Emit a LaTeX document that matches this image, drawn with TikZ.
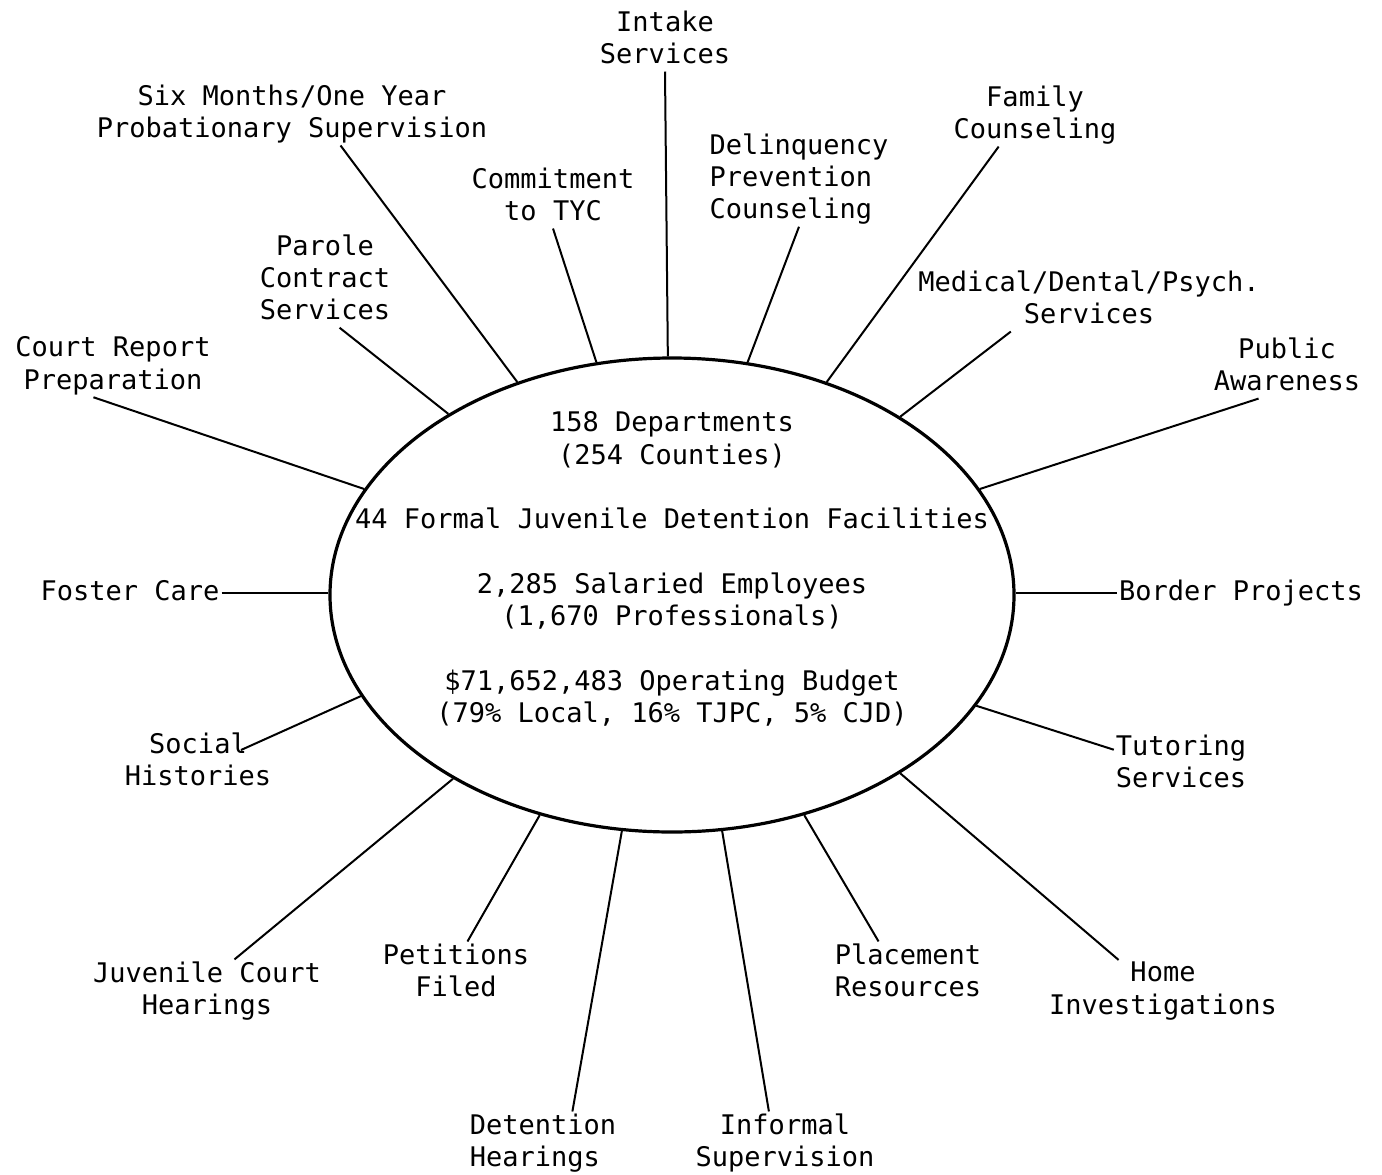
\documentclass[tikz,border=0pt]{standalone}
\usepackage{fontspec}
\usepackage{tikz}
\usetikzlibrary{shapes.geometric}
\newfontfamily\typefont{DejaVu Sans Mono}

\begin{document}
\begin{tikzpicture}[x=1pt,y=-1pt,
    lbl/.style={font=\typefont\fontsize{27}{32.3}\selectfont,align=center,inner sep=2pt,
        execute at begin node={\vphantom{Ag}},execute at end node={\vphantom{g}}},
    link/.style={line width=2pt},
    hubshape/.style={ellipse,draw,line width=3.2pt,minimum width=684pt,minimum height=474pt,inner sep=0pt}]
    \useasboundingbox (0,0) rectangle (1382,1175);
                \node[hubshape](hub) at (672,595){};
                \node[lbl](facts) at ([yshift=25pt]hub.center){158 Departments\\(254 Counties)\\[32.3pt]
                    44 Formal Juvenile Detention Facilities\\[32.3pt]
                    2,285 Salaried Employees\\(1,670 Professionals)\\[32.3pt]
                    \$71,652,483 Operating Budget\\(79\% Local, 16\% TJPC, 5\% CJD)};
    \node[lbl](intake) at (665,40){Intake\\Services};
    \node[lbl,align=left](delinq) at (799,179){Delinquency\\Prevention\\Counseling};
    \node[lbl](family) at (1035,115){Family\\Counseling};
    \node[lbl](medical) at (1089,300){Medical/Dental/Psych.\\Services};
    \node[lbl](public) at (1287,367){Public\\Awareness};
    \node[lbl](border) at (1241,593){Border Projects};
    \node[lbl](tutoring) at (1181,764){Tutoring\\Services};
    \node[lbl](home) at (1163,991){Home\\Investigations};
    \node[lbl,align=left](placement) at (908,973){Placement\\Resources};
    \node[lbl](informal) at (785,1143){Informal\\Supervision};
    \node[lbl,align=left](detention) at (543,1143){Detention\\Hearings};
    \node[lbl](petitions) at (456,973){Petitions\\Filed};
    \node[lbl](juvenile) at (207,991){Juvenile Court\\Hearings};
    \node[lbl](social) at (198,762){Social\\Histories};
    \node[lbl](foster) at (130,593){Foster Care};
    \node[lbl](court) at (113,366){Court Report\\Preparation};
    \node[lbl](parole) at (325,280){Parole\\Contract\\Services};
    \node[lbl](sixmonths) at (292,114){Six Months/One Year\\Probationary Supervision};
    \node[lbl](commitment) at (553,197){Commitment\\to TYC};
    \path[link](intake.south) edge (hub.91)
                (delinq.south) edge (hub.72)
                (family.221) edge (hub.54)
                (medical.202) edge (hub.38)
                (public.228) edge (hub.19)
                (border.west) edge (hub.east |- border.west)
            (tutoring.168) edge (hub.340)
                (home.145) edge (hub.322)
                (placement.133) edge (hub.301)
                (informal.117) edge (hub.282)
                (detention.47) edge (hub.258)
                (petitions.70) edge (hub.239)
            (juvenile.49) edge (hub.220)
                ([shift={(43pt,12pt)}]social.center) edge (hub.198)
                (foster.east) edge (hub.west |- foster.east)
                (court.238) edge (hub.161)
                (parole.287) edge (hub.141)
                (sixmonths.327) edge (hub.126)
                (commitment.south) edge (hub.108);
\end{tikzpicture}
\end{document}
